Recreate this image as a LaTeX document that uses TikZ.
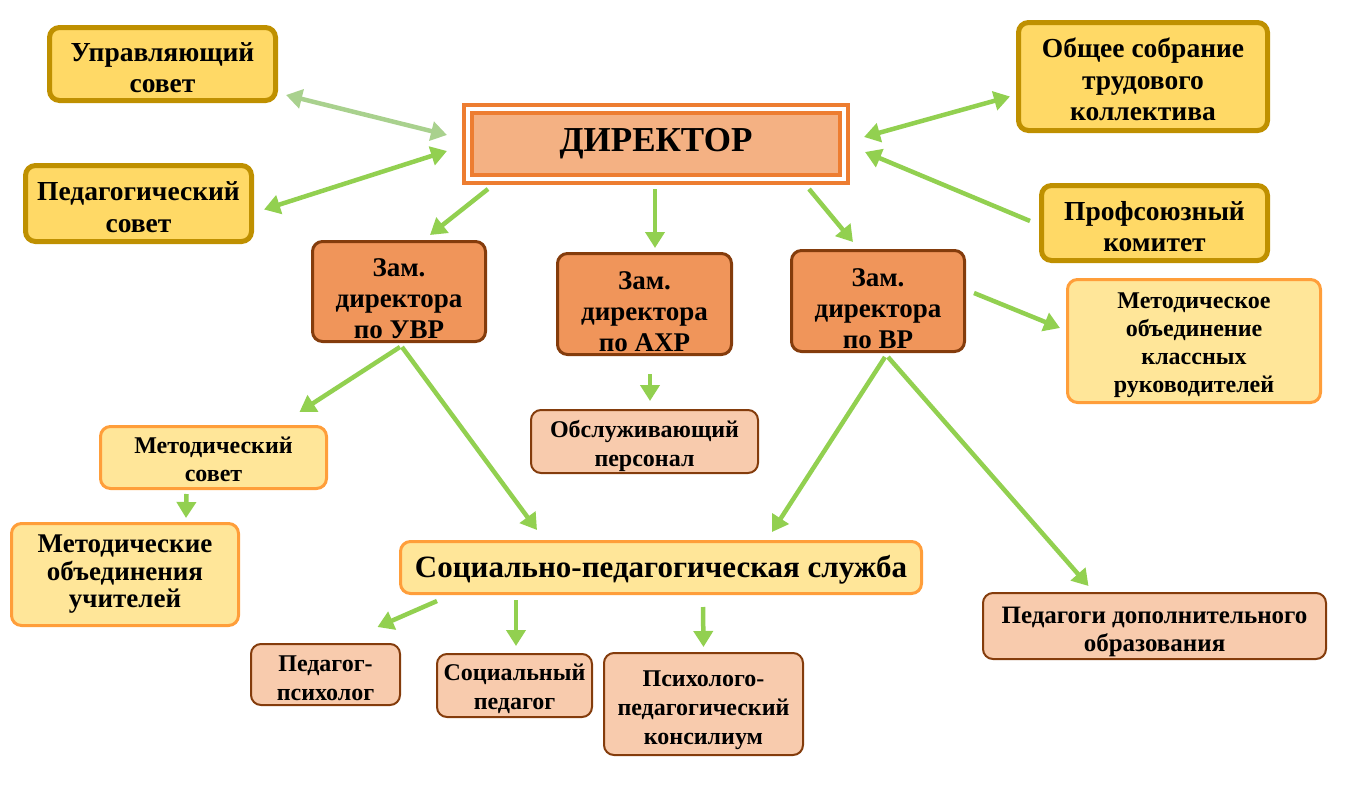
\documentclass[tikz,border=0pt]{standalone}
\usepackage{fontspec}
\setmainfont{Liberation Serif}
\usetikzlibrary{arrows.meta}
\definecolor{goldfill}{HTML}{FFD966}
\definecolor{golddraw}{HTML}{BF9000}
\definecolor{dirorange}{HTML}{ED7D31}
\definecolor{dirfill}{HTML}{F4B183}
\definecolor{zamfill}{HTML}{F0955A}
\definecolor{brownline}{HTML}{843C0C}
\definecolor{lyfill}{HTML}{FFE699}
\definecolor{lydraw}{HTML}{FF9E3A}
\definecolor{peachfill}{HTML}{F8CBAD}
\definecolor{arrgreen}{HTML}{92D050}
\definecolor{arrpale}{HTML}{A9D18E}
\newcommand{\fsz}[2]{\fontsize{#1}{#2}\selectfont\bfseries}
\newcommand{\tp}[1]{\rule{0pt}{#1em}}

\begin{document}
\begin{tikzpicture}[x=1pt,y=-1pt]
\tikzset{box/.style = {rectangle, rounded corners=10pt, align=center, inner sep=0pt}}
\tikzset{goldbox/.style = {box, fill=goldfill, draw=golddraw, line width=5pt, font=\fsz{27.5}{31.5}}}
\tikzset{zambox/.style = {box, fill=zamfill, draw=brownline, line width=3pt, font=\fsz{27}{31}}}
\tikzset{lybox/.style = {box, fill=lyfill, draw=lydraw, line width=3pt, font=\fsz{24}{28}}}
\tikzset{peachbox/.style = {box, fill=peachfill, draw=brownline, line width=2pt, font=\fsz{24}{29}}}
\tikzset{edge/.style = {-{Triangle[length=16pt,width=19pt]}, line width=4.5pt, draw=arrgreen}}
\tikzset{edge2/.style = {{Triangle[length=16pt,width=19pt]}-{Triangle[length=16pt,width=19pt]}, line width=4.5pt, draw=arrgreen}}

\useasboundingbox (0,0) rectangle (1366,798);

\node[rectangle, inner sep=0pt, fill=dirfill, draw=dirorange, line width=4pt, double=white, double distance=4pt,
  minimum width=376pt, minimum height=70pt, font=\fsz{35}{40}] (dir) at (656,144) {ДИРЕКТОР};

\node[goldbox, minimum width=226pt, minimum height=73pt] (upr) at (162.5,64) {\tp{0.95}Управляющий\\совет};
\node[goldbox, minimum width=226pt, minimum height=76pt] (ped) at (138.5,203.5) {\tp{0.95}Педагогический\\совет};
\node[goldbox, minimum width=249pt, minimum height=108pt] (obsh) at (1143,76.5) {\tp{0.95}Общее собрание\\трудового\\коллектива};
\node[goldbox, minimum width=226pt, minimum height=75pt] (prof) at (1154.5,223) {\tp{0.95}Профсоюзный\\комитет};

\node[zambox, minimum width=173pt, minimum height=100pt] (zuvr) at (399,291.5) {\tp{1.2}Зам.\\директора\\по УВР};
\node[zambox, minimum width=174pt, minimum height=101pt] (zahr) at (644.5,304) {\tp{1.2}Зам.\\директора\\по АХР};
\node[zambox, minimum width=173pt, minimum height=101pt] (zvr) at (878,301) {\tp{1.2}Зам.\\директора\\по ВР};

\node[lybox, minimum width=253pt, minimum height=123pt] (mokr) at (1194,341) {\tp{1.0}Методическое\\объединение\\классных\\руководителей};
\node[lybox, minimum width=226pt, minimum height=62pt] (msov) at (213.5,457.5) {\tp{0.85}Методический\\совет};
\node[lybox, minimum width=227pt, minimum height=102pt, font=\fsz{27}{27.5}] (mou) at (125,574.5) {Методические\\объединения\\учителей};
\node[lybox, minimum width=521pt, minimum height=52pt, font=\fsz{31}{34}] (sps) at (661,567.5) {\tp{0.85}Социально-педагогическая служба};

\node[peachbox, minimum width=227pt, minimum height=63pt] (obsl) at (644.5,441.5) {\tp{1.1}Обслуживающий\\персонал};
\node[peachbox, minimum width=149pt, minimum height=61pt] (pps) at (325.5,674.5) {\tp{1.0}Педагог-\\психолог};
\node[peachbox, minimum width=155pt, minimum height=63pt] (spd) at (514.5,685.5) {\tp{1.0}Социальный\\педагог};
\node[peachbox, minimum width=199pt, minimum height=102pt] (ppk) at (703.5,704) {\tp{1.2}Психолого-\\педагогический\\консилиум};
\node[peachbox, minimum width=343pt, minimum height=66pt, font=\fsz{25}{28}] (pdo) at (1154.5,626) {\tp{1.1}Педагоги дополнительного\\образования};

\draw[edge2, draw=arrpale] ([shift={(8,-8)}]upr.south east) to ([shift={(-19,-9)}]dir.west);
\draw[edge2] ([shift={(10,6)}]ped.east) to ([shift={(-19,7)}]dir.west);
\draw[edge2] ([shift={(18,-7)}]dir.east) to ([shift={(-6,20)}]obsh.west);
\draw[edge] ([shift={(-9,-2)}]prof.west) to ([shift={(19,8)}]dir.east);

\draw[edge] ([shift={(22,8)}]dir.south west) to ([shift={(31,-5)}]zuvr.north);
\draw[edge] ([shift={(-1,8)}]dir.south) to ([shift={(10.5,-4)}]zahr.north);
\draw[edge] ([shift={(-37,8)}]dir.south east) to ([shift={(-25,-7)}]zvr.north);

\draw[edge] ([shift={(8,-8)}]zvr.east) to ([shift={(-6,-13)}]mokr.west);
\draw[edge] ([shift={(1,4)}]zuvr.south) to ([shift={(86,-13)}]msov.north);
\draw[edge] ([shift={(3,4)}]zuvr.south) to ([shift={(-124,-10)}]sps.north);
\draw[edge] ([shift={(5.5,18)}]zahr.south) to ([shift={(5.5,-8)}]obsl.north);
\draw[edge] ([shift={(7,4)}]zvr.south) to ([shift={(111,-8)}]sps.north);
\draw[edge] ([shift={(10,4)}]zvr.south) to ([shift={(-66,-6)}]pdo.north);

\draw[edge] ([shift={(-27,4)}]msov.south) to ([shift={(61,-4)}]mou.north);
\draw[edge] ([shift={(-224,6)}]sps.south) to ([shift={(52,-16)}]pps.north);
\draw[edge] ([shift={(-145,5)}]sps.south) to ([shift={(1.5,-7)}]spd.north);
\draw[edge] ([shift={(42,12)}]sps.south) to ([shift={(0,-5)}]ppk.north);

\end{tikzpicture}
\end{document}
